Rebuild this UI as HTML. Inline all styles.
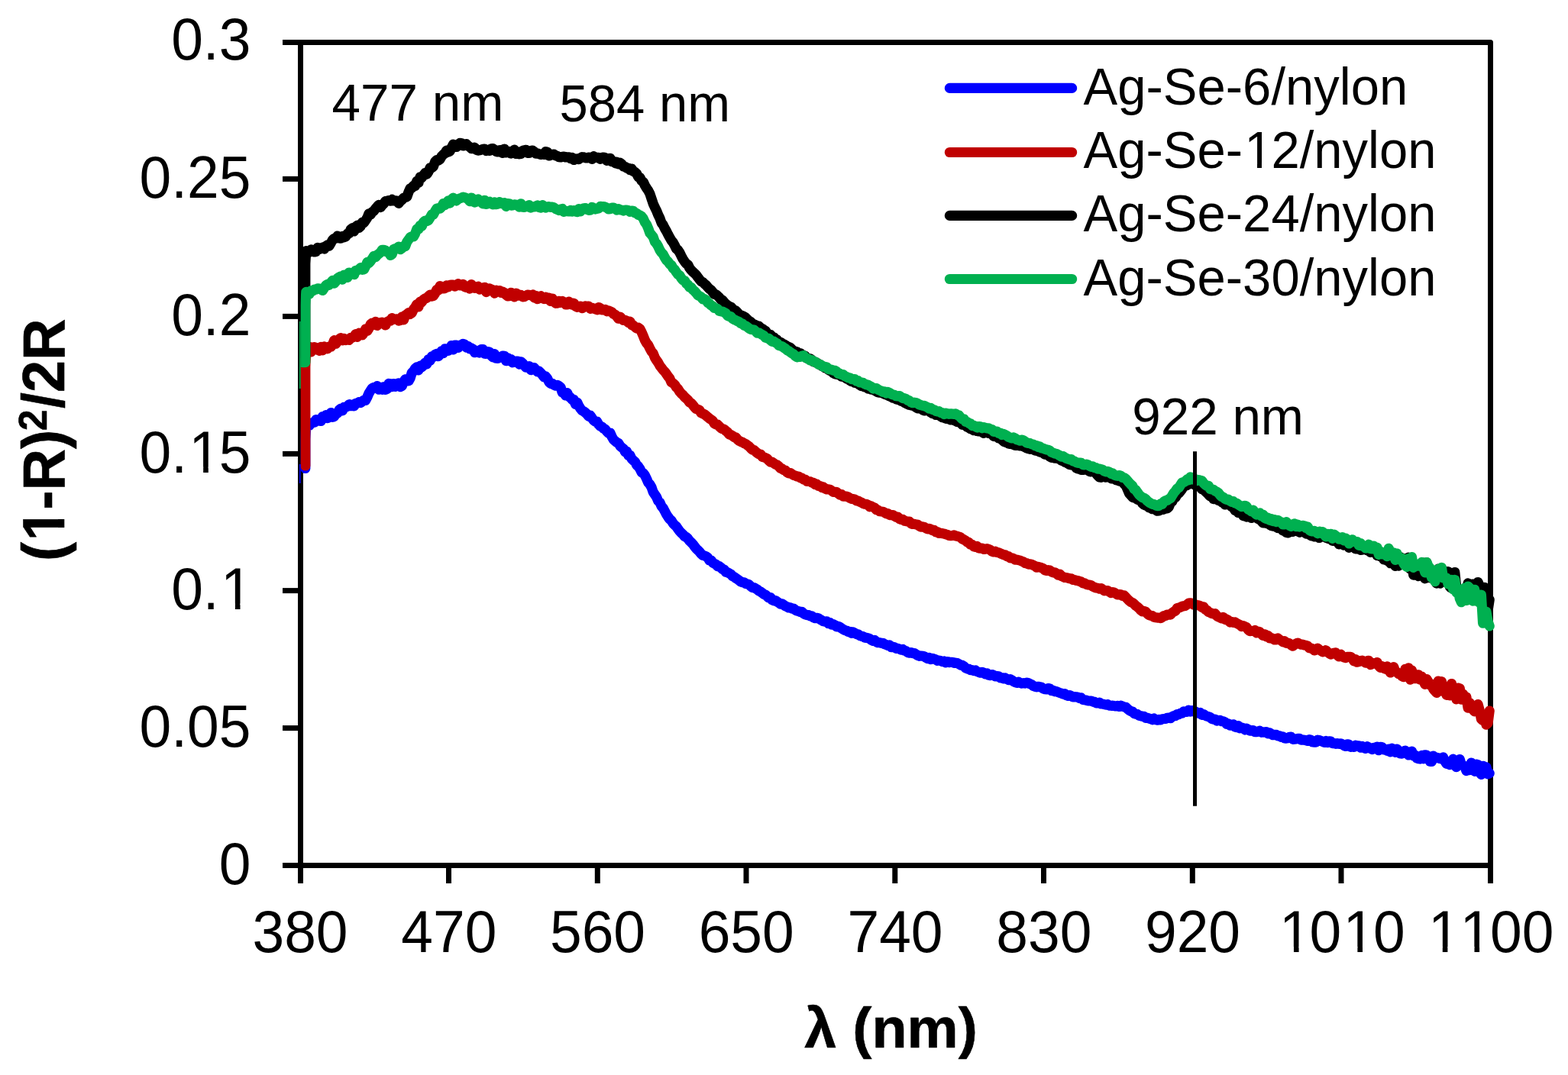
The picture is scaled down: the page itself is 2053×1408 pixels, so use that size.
<!DOCTYPE html>
<html lang="en">
<head>
<meta charset="utf-8">
<title>Kubelka-Munk absorption spectra of Ag-Se/nylon</title>
<style>
html,body{margin:0;padding:0;background:#fff;}
body{width:2053px;height:1408px;overflow:hidden;}
svg{display:block}
.t{font-family:"Liberation Sans", sans-serif;fill:#000;font-kerning:none;font-variant-ligatures:none;}
</style>
</head>
<body>
<svg width="2053" height="1408" viewBox="0 0 2053 1408" style="display:block">
<rect width="2053" height="1408" fill="#fff"/>
<g stroke="#000" stroke-width="7" fill="none" stroke-linecap="butt">
<path d="M370 55.5 H1951.5 V1157" stroke-linejoin="round"/>
<path d="M370 1133.4 H1951.5"/>
<path d="M393.5 55.5 V1157"/>
<path d="M370 234.4 H393.5"/>
<path d="M370 414.4 H393.5"/>
<path d="M370 594.4 H393.5"/>
<path d="M370 773.6 H393.5"/>
<path d="M370 953.6 H393.5"/>
<path d="M587.5 1133.4 V1157"/>
<path d="M782.3 1133.4 V1157"/>
<path d="M977.0 1133.4 V1157"/>
<path d="M1171.8 1133.4 V1157"/>
<path d="M1366.5 1133.4 V1157"/>
<path d="M1561.3 1133.4 V1157"/>
<path d="M1756.0 1133.4 V1157"/>
</g>
<clipPath id="pc"><rect x="393.6" y="0" width="1700" height="1408"/></clipPath>
<g clip-path="url(#pc)">
<path d="M399.8 613.5 L399.8 575.0 L400.8 554.0 L403.0 554.8 L405.1 557.4 L407.3 554.1 L409.5 553.6 L411.6 553.3 L413.8 549.6 L415.9 551.1 L418.1 551.2 L420.3 551.4 L422.4 545.5 L424.6 546.0 L426.8 543.5 L428.9 547.7 L431.1 546.0 L433.3 540.5 L435.4 546.4 L437.6 545.4 L439.8 542.3 L441.9 541.2 L444.1 537.0 L446.2 535.1 L448.4 537.9 L450.6 533.4 L452.7 533.2 L454.9 532.4 L457.1 529.7 L459.2 531.6 L461.4 530.2 L463.6 531.8 L465.7 528.3 L467.9 528.1 L470.0 526.7 L472.2 527.5 L474.4 525.8 L476.5 524.0 L478.7 524.4 L480.9 520.0 L483.0 515.2 L485.2 511.5 L487.4 508.4 L489.5 507.4 L491.7 507.4 L493.9 505.6 L496.0 510.2 L498.2 507.4 L500.3 510.3 L502.5 506.8 L504.7 510.5 L506.8 509.4 L509.0 502.4 L511.2 502.8 L513.3 506.7 L515.5 502.6 L517.7 506.3 L519.8 503.1 L522.0 501.8 L524.1 506.6 L526.3 505.7 L528.5 500.1 L530.6 496.9 L532.8 496.6 L535.0 499.0 L537.1 495.2 L539.3 488.0 L541.5 486.2 L543.6 482.5 L545.8 480.9 L548.0 484.8 L550.1 479.2 L552.3 480.6 L554.4 478.6 L556.6 475.1 L558.8 476.9 L560.9 470.8 L563.1 472.4 L565.3 466.9 L567.4 467.4 L569.6 464.5 L571.8 463.4 L573.9 466.7 L576.1 464.3 L578.2 459.8 L580.4 462.7 L582.6 456.9 L584.7 457.1 L586.9 459.4 L589.1 457.1 L591.2 452.5 L593.4 457.8 L595.6 452.0 L597.7 452.1 L599.9 455.4 L602.1 452.2 L604.2 451.8 L606.4 450.3 L608.5 451.1 L610.7 455.2 L612.9 453.5 L615.0 456.8 L617.2 456.0 L619.4 457.4 L621.5 461.7 L623.7 459.2 L625.9 459.9 L628.0 462.1 L630.2 457.5 L632.3 457.5 L634.5 463.2 L636.7 463.5 L638.8 460.6 L641.0 461.2 L643.2 465.8 L645.3 467.9 L647.5 463.6 L649.7 469.3 L651.8 469.5 L654.0 468.3 L656.2 467.6 L658.3 466.0 L660.5 466.2 L662.6 472.7 L664.8 468.8 L667.0 472.5 L669.1 470.5 L671.3 474.8 L673.5 474.1 L675.6 473.0 L677.8 473.0 L680.0 477.1 L682.1 473.8 L684.3 475.7 L686.4 478.6 L688.6 481.2 L690.8 480.6 L692.9 479.7 L695.1 484.7 L697.3 481.6 L699.4 481.6 L701.6 484.3 L703.8 486.9 L705.9 486.2 L708.1 488.5 L710.3 491.2 L712.4 493.9 L714.6 493.0 L716.7 495.9 L718.9 500.5 L721.1 502.6 L723.2 502.4 L725.4 504.2 L727.6 505.2 L729.7 504.3 L731.9 505.5 L734.1 507.3 L736.2 514.0 L738.4 514.7 L740.5 518.0 L742.7 514.7 L744.9 519.7 L747.0 520.6 L749.2 523.6 L751.4 523.6 L753.5 529.4 L755.7 527.0 L757.9 531.8 L760.0 535.1 L762.2 537.8 L764.4 538.8 L766.5 540.5 L768.7 542.7 L770.8 545.2 L773.0 544.3 L775.2 547.7 L777.3 550.5 L779.5 552.2 L781.7 552.2 L783.8 555.9 L786.0 558.3 L788.2 559.0 L790.3 561.3 L792.5 562.3 L794.6 565.2 L796.8 567.4 L799.0 567.2 L801.1 572.0 L803.3 575.8 L805.5 577.7 L807.6 579.5 L809.8 580.5 L812.0 584.2 L814.1 586.0 L816.3 587.8 L818.5 591.7 L820.6 591.4 L822.8 596.5 L824.9 596.4 L827.1 601.0 L829.3 603.1 L831.4 604.8 L833.6 609.0 L835.8 611.0 L837.9 614.2 L840.1 618.7 L842.3 619.9 L844.4 622.6 L846.6 627.1 L848.7 632.0 L850.9 634.4 L853.1 638.3 L855.2 644.5 L857.4 647.7 L859.6 650.9 L861.7 656.0 L863.9 658.1 L866.1 662.9 L868.2 665.4 L870.4 669.5 L872.6 673.7 L874.7 677.0 L876.9 680.0 L879.0 681.8 L881.2 685.4 L883.4 687.7 L885.5 689.5 L887.7 692.7 L889.9 695.8 L892.0 698.0 L894.2 699.9 L896.4 702.7 L898.5 703.5 L900.7 705.5 L902.8 708.4 L905.0 710.4 L907.2 712.7 L909.3 715.6 L911.5 718.4 L913.7 720.5 L915.8 722.6 L918.0 725.4 L920.2 727.4 L922.3 727.9 L924.5 728.8 L926.7 730.4 L928.8 733.9 L931.0 733.8 L933.1 736.9 L935.3 738.3 L937.5 739.3 L939.6 741.8 L941.8 741.7 L944.0 743.4 L946.1 745.6 L948.3 746.2 L950.5 749.5 L952.6 749.7 L954.8 751.0 L956.9 752.1 L959.1 754.7 L961.3 755.6 L963.4 757.3 L965.6 758.6 L967.8 760.3 L969.9 761.9 L972.1 762.6 L974.3 762.8 L976.4 764.6 L978.6 765.0 L980.8 765.8 L982.9 767.9 L985.1 769.6 L987.2 769.5 L989.4 770.9 L991.6 772.2 L993.7 774.1 L995.9 775.1 L998.1 776.7 L1000.2 778.4 L1002.4 779.0 L1004.6 781.3 L1006.7 783.0 L1008.9 782.6 L1011.0 785.8 L1013.2 786.8 L1015.4 786.5 L1017.5 788.1 L1019.7 789.5 L1021.9 791.1 L1024.0 790.9 L1026.2 792.3 L1028.4 793.9 L1030.5 794.7 L1032.7 796.0 L1034.9 795.8 L1037.0 797.1 L1039.2 797.0 L1041.3 799.0 L1043.5 800.1 L1045.7 800.6 L1047.8 801.6 L1050.0 801.4 L1052.2 803.7 L1054.3 804.8 L1056.5 805.6 L1058.7 805.5 L1060.8 807.0 L1063.0 806.8 L1065.1 808.9 L1067.3 809.7 L1069.5 809.4 L1071.6 809.7 L1073.8 811.4 L1076.0 812.5 L1078.1 813.8 L1080.3 814.1 L1082.5 813.9 L1084.6 816.5 L1086.8 815.7 L1089.0 818.2 L1091.1 817.7 L1093.3 819.0 L1095.4 820.9 L1097.6 820.4 L1099.8 821.3 L1101.9 823.0 L1104.1 824.4 L1106.3 825.5 L1108.4 826.1 L1110.6 827.6 L1112.8 827.4 L1114.9 829.2 L1117.1 828.0 L1119.2 829.1 L1121.4 830.6 L1123.6 830.8 L1125.7 832.6 L1127.9 833.2 L1130.1 833.7 L1132.2 835.2 L1134.4 835.4 L1136.6 835.7 L1138.7 836.6 L1140.9 838.4 L1143.1 839.3 L1145.2 838.5 L1147.4 840.7 L1149.5 841.7 L1151.7 841.5 L1153.9 842.4 L1156.0 842.3 L1158.2 843.8 L1160.4 844.5 L1162.5 845.4 L1164.7 844.8 L1166.9 847.6 L1169.0 847.3 L1171.2 847.7 L1173.3 849.3 L1175.5 849.4 L1177.7 850.0 L1179.8 851.1 L1182.0 850.5 L1184.2 852.2 L1186.3 852.7 L1188.5 854.6 L1190.7 855.2 L1192.8 854.5 L1195.0 855.6 L1197.2 855.6 L1199.3 857.0 L1201.5 858.4 L1203.6 859.3 L1205.8 859.0 L1208.0 859.3 L1210.1 859.7 L1212.3 861.3 L1214.5 862.6 L1216.6 861.5 L1218.8 863.5 L1221.0 862.3 L1223.1 863.2 L1225.3 863.8 L1227.4 865.3 L1229.6 865.0 L1231.8 865.6 L1233.9 866.6 L1236.1 866.0 L1238.3 867.8 L1240.4 866.6 L1242.6 867.6 L1244.8 867.3 L1246.9 867.3 L1249.1 868.3 L1251.3 868.2 L1253.4 868.5 L1255.6 869.7 L1257.7 871.1 L1259.9 871.4 L1262.1 872.7 L1264.2 874.8 L1266.4 875.9 L1268.6 876.3 L1270.7 877.6 L1272.9 877.6 L1275.1 878.7 L1277.2 877.9 L1279.4 879.6 L1281.5 880.4 L1283.7 881.1 L1285.9 880.4 L1288.0 881.0 L1290.2 882.9 L1292.4 882.0 L1294.5 884.3 L1296.7 884.6 L1298.9 883.5 L1301.0 884.3 L1303.2 885.9 L1305.4 885.5 L1307.5 885.7 L1309.7 887.9 L1311.8 887.5 L1314.0 888.9 L1316.2 888.0 L1318.3 889.3 L1320.5 890.6 L1322.7 889.7 L1324.8 890.8 L1327.0 892.5 L1329.2 893.6 L1331.3 894.4 L1333.5 893.2 L1335.6 894.5 L1337.8 895.1 L1340.0 894.7 L1342.1 895.1 L1344.3 894.1 L1346.5 894.7 L1348.6 895.8 L1350.8 896.6 L1353.0 898.6 L1355.1 899.3 L1357.3 899.8 L1359.5 899.3 L1361.6 899.7 L1363.8 900.2 L1365.9 902.0 L1368.1 902.7 L1370.3 902.9 L1372.4 901.5 L1374.6 901.9 L1376.8 904.7 L1378.9 904.3 L1381.1 905.8 L1383.3 905.6 L1385.4 906.6 L1387.6 907.5 L1389.7 908.1 L1391.9 909.2 L1394.1 908.6 L1396.2 910.6 L1398.4 911.5 L1400.6 910.6 L1402.7 911.7 L1404.9 912.9 L1407.1 912.7 L1409.2 912.8 L1411.4 913.2 L1413.6 914.5 L1415.7 914.0 L1417.9 916.5 L1420.0 916.8 L1422.2 917.1 L1424.4 918.0 L1426.5 918.0 L1428.7 918.1 L1430.9 919.1 L1433.0 919.4 L1435.2 920.8 L1437.4 920.9 L1439.5 920.1 L1441.7 922.0 L1443.8 922.0 L1446.0 922.6 L1448.2 923.1 L1450.3 922.6 L1452.5 924.1 L1454.7 924.3 L1456.8 924.2 L1459.0 924.6 L1461.2 924.9 L1463.3 924.4 L1465.5 925.4 L1467.7 924.2 L1469.8 925.1 L1472.0 926.0 L1474.1 926.3 L1476.3 928.4 L1478.5 930.3 L1480.6 931.5 L1482.8 931.9 L1485.0 934.6 L1487.1 935.2 L1489.3 935.6 L1491.5 937.3 L1493.6 937.7 L1495.8 938.2 L1497.9 938.4 L1500.1 940.4 L1502.3 940.2 L1504.4 940.9 L1506.6 941.6 L1508.8 942.7 L1510.9 941.0 L1513.1 942.6 L1515.3 943.2 L1517.4 942.3 L1519.6 942.9 L1521.8 941.7 L1523.9 941.5 L1526.1 941.4 L1528.2 940.2 L1530.4 940.0 L1532.6 940.7 L1534.7 938.7 L1536.9 937.5 L1539.1 937.6 L1541.2 935.5 L1543.4 935.8 L1545.6 934.3 L1547.7 934.2 L1549.9 931.8 L1552.0 932.5 L1554.2 932.4 L1556.4 930.0 L1558.5 932.0 L1560.7 930.6 L1562.9 932.0 L1565.0 931.9 L1567.2 933.3 L1569.4 934.3 L1571.5 933.4 L1573.7 936.4 L1575.9 935.6 L1578.0 937.0 L1580.2 938.2 L1582.3 938.7 L1584.5 939.5 L1586.7 941.7 L1588.8 942.2 L1591.0 942.1 L1593.2 944.0 L1595.3 943.5 L1597.5 943.4 L1599.7 944.7 L1601.8 944.8 L1604.0 945.9 L1606.1 948.3 L1608.3 947.9 L1610.5 950.1 L1612.6 950.2 L1614.8 948.8 L1617.0 952.2 L1619.1 952.7 L1621.3 950.6 L1623.5 953.8 L1625.6 952.9 L1627.8 953.7 L1630.0 955.8 L1632.1 954.2 L1634.3 955.5 L1636.4 957.2 L1638.6 957.0 L1640.8 956.6 L1642.9 958.6 L1645.1 958.6 L1647.3 958.3 L1649.4 957.2 L1651.6 959.3 L1653.8 959.1 L1655.9 958.8 L1658.1 958.7 L1660.2 960.8 L1662.4 959.9 L1664.6 961.5 L1666.7 962.7 L1668.9 962.4 L1671.1 962.3 L1673.2 963.8 L1675.4 963.8 L1677.6 965.4 L1679.7 964.9 L1681.9 966.9 L1684.1 967.1 L1686.2 966.7 L1688.4 965.3 L1690.5 965.2 L1692.7 968.3 L1694.9 968.2 L1697.0 968.0 L1699.2 967.4 L1701.4 967.4 L1703.5 969.1 L1705.7 968.9 L1707.9 969.3 L1710.0 969.7 L1712.2 970.4 L1714.3 968.6 L1716.5 969.1 L1718.7 972.0 L1720.8 972.1 L1723.0 972.2 L1725.2 969.2 L1727.3 969.5 L1729.5 970.5 L1731.7 971.3 L1733.8 972.3 L1736.0 970.5 L1738.2 972.4 L1740.3 970.8 L1742.5 971.1 L1744.6 973.7 L1746.8 973.6 L1749.0 974.3 L1751.1 973.6 L1753.3 974.4 L1755.5 973.8 L1757.6 974.7 L1759.8 976.7 L1762.0 977.4 L1764.1 974.8 L1766.3 975.3 L1768.4 978.3 L1770.6 977.7 L1772.8 978.4 L1774.9 976.3 L1777.1 977.3 L1779.3 976.8 L1781.4 979.2 L1783.6 977.5 L1785.8 978.9 L1787.9 980.5 L1790.1 977.9 L1792.3 979.1 L1794.4 980.3 L1796.6 981.5 L1798.7 979.4 L1800.9 979.3 L1803.1 978.1 L1805.2 982.7 L1807.4 978.4 L1809.6 978.6 L1811.7 981.9 L1813.9 981.7 L1816.1 983.4 L1818.2 981.2 L1820.4 984.9 L1822.5 980.2 L1824.7 981.5 L1826.9 985.3 L1829.0 981.1 L1831.2 983.2 L1833.4 987.0 L1835.5 987.1 L1837.7 984.0 L1839.9 983.1 L1842.0 985.3 L1844.2 989.0 L1846.4 986.1 L1848.5 984.1 L1850.7 990.1 L1852.8 989.1 L1855.0 993.0 L1857.2 993.7 L1859.3 994.0 L1861.5 989.4 L1863.7 993.8 L1865.8 988.8 L1868.0 989.3 L1870.2 990.7 L1872.3 997.3 L1874.5 997.3 L1876.6 990.1 L1878.8 991.9 L1881.0 992.3 L1883.1 992.7 L1885.3 993.5 L1887.5 993.9 L1889.6 991.9 L1891.8 996.9 L1894.0 1000.3 L1896.1 997.5 L1898.3 1001.7 L1900.5 998.7 L1902.6 994.2 L1904.8 1002.4 L1906.9 1004.7 L1909.1 997.4 L1911.3 994.5 L1913.4 1001.7 L1915.6 1002.7 L1917.8 1003.6 L1919.9 1009.6 L1922.1 1006.0 L1924.3 1008.7 L1926.4 999.1 L1928.6 1006.3 L1930.7 1010.3 L1932.9 1001.0 L1935.1 1001.6 L1937.2 1011.4 L1939.4 1014.4 L1941.6 1003.3 L1943.7 1011.5 L1945.9 1004.7 L1948.1 1013.8 L1950.2 1012.8" fill="none" stroke="#0000FF" stroke-width="13.2" stroke-linejoin="round" stroke-linecap="round"/>
<path d="M399.8 610.0 L399.8 480.0 L400.8 460.7 L403.0 455.1 L405.1 454.3 L407.3 460.9 L409.5 455.2 L411.6 454.6 L413.8 458.0 L415.9 455.8 L418.1 459.3 L420.3 454.4 L422.4 458.8 L424.6 453.9 L426.8 455.2 L428.9 456.8 L431.1 453.9 L433.3 454.2 L435.4 451.4 L437.6 445.7 L439.8 450.2 L441.9 447.2 L444.1 444.3 L446.2 442.5 L448.4 445.9 L450.6 443.3 L452.7 445.5 L454.9 444.3 L457.1 445.5 L459.2 442.3 L461.4 442.3 L463.6 440.9 L465.7 437.6 L467.9 441.4 L470.0 436.2 L472.2 438.5 L474.4 438.8 L476.5 435.9 L478.7 430.9 L480.9 433.3 L483.0 430.1 L485.2 424.7 L487.4 423.0 L489.5 425.4 L491.7 421.3 L493.9 426.4 L496.0 422.8 L498.2 422.7 L500.3 422.1 L502.5 424.0 L504.7 425.9 L506.8 421.8 L509.0 420.5 L511.2 420.2 L513.3 416.6 L515.5 417.9 L517.7 418.1 L519.8 417.9 L522.0 420.0 L524.1 419.5 L526.3 414.9 L528.5 419.0 L530.6 413.0 L532.8 411.7 L535.0 409.7 L537.1 411.4 L539.3 409.7 L541.5 405.0 L543.6 402.5 L545.8 398.6 L548.0 401.9 L550.1 395.2 L552.3 395.7 L554.4 392.5 L556.6 391.0 L558.8 390.2 L560.9 388.1 L563.1 386.1 L565.3 388.2 L567.4 387.7 L569.6 384.4 L571.8 379.3 L573.9 380.2 L576.1 374.6 L578.2 376.0 L580.4 377.9 L582.6 377.6 L584.7 373.8 L586.9 375.9 L589.1 373.2 L591.2 373.0 L593.4 373.0 L595.6 375.2 L597.7 373.2 L599.9 371.7 L602.1 373.9 L604.2 373.8 L606.4 372.4 L608.5 375.7 L610.7 376.4 L612.9 375.5 L615.0 378.1 L617.2 372.6 L619.4 376.1 L621.5 377.4 L623.7 376.0 L625.9 375.3 L628.0 379.1 L630.2 377.9 L632.3 377.3 L634.5 376.3 L636.7 382.6 L638.8 379.1 L641.0 378.0 L643.2 379.1 L645.3 379.8 L647.5 384.1 L649.7 380.2 L651.8 381.2 L654.0 380.6 L656.2 383.3 L658.3 382.1 L660.5 383.4 L662.6 386.2 L664.8 387.8 L667.0 387.7 L669.1 383.3 L671.3 385.8 L673.5 388.9 L675.6 384.1 L677.8 385.3 L680.0 387.1 L682.1 386.5 L684.3 388.8 L686.4 388.7 L688.6 387.3 L690.8 386.2 L692.9 386.3 L695.1 386.9 L697.3 386.1 L699.4 389.8 L701.6 387.3 L703.8 391.7 L705.9 390.6 L708.1 387.7 L710.3 390.5 L712.4 391.5 L714.6 389.0 L716.7 391.9 L718.9 390.0 L721.1 394.5 L723.2 391.0 L725.4 394.9 L727.6 397.3 L729.7 397.1 L731.9 394.3 L734.1 396.2 L736.2 394.5 L738.4 395.8 L740.5 398.8 L742.7 398.9 L744.9 395.1 L747.0 397.3 L749.2 399.0 L751.4 397.2 L753.5 401.1 L755.7 402.3 L757.9 401.3 L760.0 401.2 L762.2 403.7 L764.4 402.2 L766.5 400.9 L768.7 401.5 L770.8 401.1 L773.0 404.4 L775.2 403.1 L777.3 404.1 L779.5 404.8 L781.7 405.7 L783.8 402.5 L786.0 403.6 L788.2 405.9 L790.3 406.0 L792.5 405.5 L794.6 407.7 L796.8 406.9 L799.0 407.8 L801.1 408.7 L803.3 411.3 L805.5 412.1 L807.6 414.5 L809.8 417.3 L812.0 415.0 L814.1 417.5 L816.3 419.5 L818.5 419.3 L820.6 420.4 L822.8 422.5 L824.9 421.1 L827.1 425.8 L829.3 426.3 L831.4 428.3 L833.6 430.0 L835.8 429.2 L837.9 430.8 L840.1 435.1 L842.3 440.2 L844.4 445.5 L846.6 449.4 L848.7 451.8 L850.9 456.4 L853.1 460.5 L855.2 462.9 L857.4 468.4 L859.6 471.9 L861.7 474.9 L863.9 478.9 L866.1 481.8 L868.2 484.6 L870.4 486.8 L872.6 489.9 L874.7 493.0 L876.9 495.7 L879.0 500.7 L881.2 501.8 L883.4 503.8 L885.5 507.2 L887.7 509.4 L889.9 513.0 L892.0 515.4 L894.2 517.3 L896.4 520.0 L898.5 521.9 L900.7 523.9 L902.8 526.9 L905.0 527.9 L907.2 530.5 L909.3 533.3 L911.5 535.5 L913.7 536.2 L915.8 537.2 L918.0 540.9 L920.2 541.7 L922.3 542.7 L924.5 544.3 L926.7 546.3 L928.8 548.1 L931.0 549.5 L933.1 551.0 L935.3 554.8 L937.5 556.0 L939.6 556.1 L941.8 558.5 L944.0 560.7 L946.1 561.7 L948.3 562.3 L950.5 564.5 L952.6 566.1 L954.8 568.9 L956.9 569.6 L959.1 570.8 L961.3 572.6 L963.4 572.8 L965.6 575.6 L967.8 577.4 L969.9 578.5 L972.1 579.3 L974.3 580.6 L976.4 581.5 L978.6 583.1 L980.8 584.8 L982.9 587.0 L985.1 589.2 L987.2 589.5 L989.4 591.6 L991.6 593.4 L993.7 594.9 L995.9 595.0 L998.1 598.3 L1000.2 598.9 L1002.4 599.7 L1004.6 600.9 L1006.7 603.3 L1008.9 605.2 L1011.0 605.2 L1013.2 606.7 L1015.4 608.4 L1017.5 608.9 L1019.7 610.8 L1021.9 613.3 L1024.0 613.9 L1026.2 615.8 L1028.4 616.0 L1030.5 618.7 L1032.7 619.8 L1034.9 619.5 L1037.0 621.1 L1039.2 622.4 L1041.3 623.0 L1043.5 624.0 L1045.7 624.1 L1047.8 625.7 L1050.0 626.2 L1052.2 628.1 L1054.3 628.1 L1056.5 630.4 L1058.7 630.5 L1060.8 630.7 L1063.0 632.1 L1065.1 632.4 L1067.3 634.7 L1069.5 634.2 L1071.6 636.4 L1073.8 636.6 L1076.0 638.5 L1078.1 637.9 L1080.3 640.0 L1082.5 641.0 L1084.6 640.8 L1086.8 641.4 L1089.0 642.8 L1091.1 644.3 L1093.3 644.3 L1095.4 644.6 L1097.6 646.5 L1099.8 648.1 L1101.9 647.6 L1104.1 650.2 L1106.3 650.1 L1108.4 650.2 L1110.6 651.0 L1112.8 652.4 L1114.9 653.4 L1117.1 653.5 L1119.2 654.1 L1121.4 655.9 L1123.6 656.1 L1125.7 657.3 L1127.9 658.1 L1130.1 659.5 L1132.2 660.2 L1134.4 660.4 L1136.6 661.3 L1138.7 663.8 L1140.9 663.0 L1143.1 664.2 L1145.2 665.1 L1147.4 667.7 L1149.5 668.1 L1151.7 669.8 L1153.9 670.0 L1156.0 670.2 L1158.2 671.3 L1160.4 672.8 L1162.5 672.5 L1164.7 674.6 L1166.9 674.5 L1169.0 674.5 L1171.2 676.0 L1173.3 677.2 L1175.5 677.1 L1177.7 679.6 L1179.8 680.5 L1182.0 680.4 L1184.2 682.2 L1186.3 682.6 L1188.5 683.1 L1190.7 683.1 L1192.8 685.7 L1195.0 686.5 L1197.2 686.4 L1199.3 687.0 L1201.5 687.0 L1203.6 689.0 L1205.8 690.2 L1208.0 689.9 L1210.1 690.4 L1212.3 691.8 L1214.5 692.9 L1216.6 692.3 L1218.8 693.3 L1221.0 694.8 L1223.1 694.3 L1225.3 696.8 L1227.4 696.5 L1229.6 698.5 L1231.8 698.4 L1233.9 698.6 L1236.1 699.1 L1238.3 699.8 L1240.4 700.3 L1242.6 701.5 L1244.8 701.7 L1246.9 701.5 L1249.1 700.9 L1251.3 701.8 L1253.4 702.4 L1255.6 703.0 L1257.7 703.7 L1259.9 706.0 L1262.1 706.8 L1264.2 708.1 L1266.4 710.0 L1268.6 710.5 L1270.7 713.5 L1272.9 713.4 L1275.1 715.9 L1277.2 716.5 L1279.4 715.4 L1281.5 717.9 L1283.7 718.2 L1285.9 718.1 L1288.0 719.4 L1290.2 719.1 L1292.4 718.6 L1294.5 719.4 L1296.7 720.3 L1298.9 722.3 L1301.0 723.0 L1303.2 722.2 L1305.4 723.4 L1307.5 723.7 L1309.7 724.7 L1311.8 725.7 L1314.0 726.6 L1316.2 726.8 L1318.3 728.8 L1320.5 728.7 L1322.7 730.9 L1324.8 730.8 L1327.0 731.5 L1329.2 733.1 L1331.3 733.0 L1333.5 733.6 L1335.6 734.1 L1337.8 735.2 L1340.0 735.8 L1342.1 737.7 L1344.3 737.6 L1346.5 739.1 L1348.6 738.9 L1350.8 739.2 L1353.0 740.4 L1355.1 741.3 L1357.3 743.2 L1359.5 742.3 L1361.6 743.1 L1363.8 743.7 L1365.9 744.6 L1368.1 746.9 L1370.3 747.5 L1372.4 746.7 L1374.6 747.1 L1376.8 748.9 L1378.9 750.0 L1381.1 749.8 L1383.3 751.3 L1385.4 753.0 L1387.6 752.1 L1389.7 754.6 L1391.9 755.4 L1394.1 756.4 L1396.2 756.5 L1398.4 757.1 L1400.6 758.0 L1402.7 757.8 L1404.9 759.4 L1407.1 759.5 L1409.2 760.4 L1411.4 760.5 L1413.6 761.5 L1415.7 762.0 L1417.9 763.8 L1420.0 763.9 L1422.2 765.3 L1424.4 765.9 L1426.5 766.1 L1428.7 766.6 L1430.9 768.3 L1433.0 769.2 L1435.2 770.0 L1437.4 770.3 L1439.5 771.2 L1441.7 770.6 L1443.8 772.0 L1446.0 773.8 L1448.2 773.6 L1450.3 773.7 L1452.5 775.0 L1454.7 776.5 L1456.8 775.5 L1459.0 776.1 L1461.2 777.6 L1463.3 779.0 L1465.5 778.5 L1467.7 778.8 L1469.8 780.5 L1472.0 780.0 L1474.1 782.2 L1476.3 784.6 L1478.5 786.8 L1480.6 788.6 L1482.8 789.4 L1485.0 791.2 L1487.1 793.4 L1489.3 794.9 L1491.5 796.9 L1493.6 799.2 L1495.8 800.8 L1497.9 800.4 L1500.1 801.2 L1502.3 803.8 L1504.4 805.5 L1506.6 806.3 L1508.8 806.6 L1510.9 808.3 L1513.1 808.7 L1515.3 809.1 L1517.4 809.0 L1519.6 809.6 L1521.8 808.4 L1523.9 806.5 L1526.1 806.4 L1528.2 805.0 L1530.4 805.1 L1532.6 805.1 L1534.7 802.6 L1536.9 801.1 L1539.1 800.2 L1541.2 796.7 L1543.4 796.1 L1545.6 795.3 L1547.7 794.3 L1549.9 793.8 L1552.0 793.4 L1554.2 791.9 L1556.4 790.1 L1558.5 789.8 L1560.7 790.2 L1562.9 792.2 L1565.0 791.8 L1567.2 792.6 L1569.4 792.8 L1571.5 793.6 L1573.7 795.4 L1575.9 794.9 L1578.0 798.2 L1580.2 799.2 L1582.3 801.6 L1584.5 802.4 L1586.7 803.5 L1588.8 803.9 L1591.0 803.7 L1593.2 806.8 L1595.3 808.0 L1597.5 808.9 L1599.7 809.9 L1601.8 808.4 L1604.0 811.5 L1606.1 811.1 L1608.3 812.4 L1610.5 815.0 L1612.6 814.3 L1614.8 815.5 L1617.0 814.9 L1619.1 816.3 L1621.3 817.4 L1623.5 818.4 L1625.6 820.5 L1627.8 819.6 L1630.0 820.7 L1632.1 821.6 L1634.3 824.9 L1636.4 826.6 L1638.6 826.5 L1640.8 826.4 L1642.9 825.6 L1645.1 829.0 L1647.3 827.2 L1649.4 827.7 L1651.6 830.3 L1653.8 832.5 L1655.9 830.9 L1658.1 833.9 L1660.2 832.4 L1662.4 835.8 L1664.6 835.5 L1666.7 836.7 L1668.9 838.0 L1671.1 837.9 L1673.2 835.9 L1675.4 838.0 L1677.6 839.0 L1679.7 840.8 L1681.9 839.7 L1684.1 842.4 L1686.2 842.1 L1688.4 842.8 L1690.5 844.9 L1692.7 846.1 L1694.9 844.5 L1697.0 843.1 L1699.2 842.1 L1701.4 843.3 L1703.5 844.2 L1705.7 844.2 L1707.9 845.0 L1710.0 845.3 L1712.2 846.2 L1714.3 848.7 L1716.5 849.1 L1718.7 849.8 L1720.8 851.9 L1723.0 851.2 L1725.2 849.1 L1727.3 851.1 L1729.5 852.2 L1731.7 853.9 L1733.8 853.4 L1736.0 851.7 L1738.2 854.2 L1740.3 855.7 L1742.5 857.0 L1744.6 855.8 L1746.8 855.2 L1749.0 854.9 L1751.1 858.0 L1753.3 860.0 L1755.5 857.2 L1757.6 860.1 L1759.8 861.1 L1762.0 861.6 L1764.1 860.4 L1766.3 860.3 L1768.4 860.3 L1770.6 862.2 L1772.8 865.9 L1774.9 863.6 L1777.1 867.2 L1779.3 866.6 L1781.4 865.6 L1783.6 865.2 L1785.8 866.3 L1787.9 868.2 L1790.1 865.8 L1792.3 865.3 L1794.4 870.7 L1796.6 869.6 L1798.7 868.5 L1800.9 869.3 L1803.1 867.5 L1805.2 871.9 L1807.4 874.5 L1809.6 872.6 L1811.7 875.1 L1813.9 876.3 L1816.1 872.9 L1818.2 876.7 L1820.4 881.0 L1822.5 878.9 L1824.7 873.5 L1826.9 879.8 L1829.0 880.3 L1831.2 882.6 L1833.4 882.4 L1835.5 885.5 L1837.7 886.7 L1839.9 876.3 L1842.0 880.2 L1844.2 874.8 L1846.4 890.1 L1848.5 878.1 L1850.7 884.3 L1852.8 888.7 L1855.0 887.0 L1857.2 883.8 L1859.3 890.1 L1861.5 886.1 L1863.7 891.5 L1865.8 896.3 L1868.0 889.6 L1870.2 893.0 L1872.3 897.3 L1874.5 896.3 L1876.6 902.3 L1878.8 905.0 L1881.0 907.5 L1883.1 892.1 L1885.3 899.4 L1887.5 892.7 L1889.6 905.5 L1891.8 900.0 L1894.0 910.3 L1896.1 903.5 L1898.3 911.0 L1900.5 895.5 L1902.6 908.9 L1904.8 905.7 L1906.9 915.9 L1909.1 901.1 L1911.3 901.8 L1913.4 916.1 L1915.6 909.1 L1917.8 912.6 L1919.9 913.0 L1922.1 927.2 L1924.3 920.5 L1926.4 927.3 L1928.6 929.4 L1930.7 931.8 L1932.9 924.2 L1935.1 922.6 L1937.2 930.3 L1939.4 941.7 L1941.6 943.8 L1943.7 936.5 L1945.9 949.2 L1948.1 947.2 L1950.2 931.0" fill="none" stroke="#C00000" stroke-width="13.2" stroke-linejoin="round" stroke-linecap="round"/>
<path d="M399.8 466.0 L399.8 345.0 L400.8 328.7 L403.0 329.1 L405.1 330.3 L407.3 326.9 L409.5 329.2 L411.6 330.0 L413.8 329.5 L415.9 324.3 L418.1 326.6 L420.3 325.6 L422.4 324.0 L424.6 326.1 L426.8 322.4 L428.9 320.9 L431.1 322.1 L433.3 318.2 L435.4 314.2 L437.6 312.3 L439.8 312.3 L441.9 309.0 L444.1 311.9 L446.2 312.2 L448.4 309.6 L450.6 310.8 L452.7 309.9 L454.9 306.2 L457.1 305.6 L459.2 300.6 L461.4 298.7 L463.6 303.0 L465.7 297.1 L467.9 295.2 L470.0 298.4 L472.2 296.4 L474.4 291.4 L476.5 291.6 L478.7 288.5 L480.9 285.1 L483.0 279.8 L485.2 281.0 L487.4 277.7 L489.5 276.4 L491.7 273.1 L493.9 270.7 L496.0 268.3 L498.2 271.6 L500.3 268.9 L502.5 266.8 L504.7 263.6 L506.8 263.2 L509.0 262.5 L511.2 263.2 L513.3 261.4 L515.5 263.0 L517.7 262.9 L519.8 263.1 L522.0 266.3 L524.1 263.5 L526.3 261.8 L528.5 259.2 L530.6 258.5 L532.8 257.7 L535.0 251.5 L537.1 246.8 L539.3 246.1 L541.5 243.0 L543.6 243.3 L545.8 237.1 L548.0 239.5 L550.1 231.8 L552.3 232.6 L554.4 229.6 L556.6 226.6 L558.8 228.2 L560.9 225.1 L563.1 219.9 L565.3 219.9 L567.4 218.0 L569.6 211.9 L571.8 209.6 L573.9 210.2 L576.1 208.6 L578.2 204.8 L580.4 202.4 L582.6 200.8 L584.7 197.1 L586.9 199.2 L589.1 198.1 L591.2 193.5 L593.4 189.1 L595.6 190.4 L597.7 192.5 L599.9 189.1 L602.1 187.4 L604.2 187.5 L606.4 190.9 L608.5 190.5 L610.7 188.7 L612.9 191.0 L615.0 192.4 L617.2 194.6 L619.4 194.7 L621.5 193.2 L623.7 196.3 L625.9 197.1 L628.0 196.8 L630.2 196.2 L632.3 195.3 L634.5 195.1 L636.7 197.5 L638.8 196.5 L641.0 197.4 L643.2 194.8 L645.3 194.5 L647.5 196.1 L649.7 198.5 L651.8 198.9 L654.0 196.8 L656.2 196.4 L658.3 200.5 L660.5 195.2 L662.6 199.8 L664.8 199.2 L667.0 198.4 L669.1 201.1 L671.3 199.6 L673.5 196.1 L675.6 201.5 L677.8 198.8 L680.0 201.8 L682.1 201.4 L684.3 197.5 L686.4 196.7 L688.6 196.4 L690.8 200.3 L692.9 200.4 L695.1 197.5 L697.3 197.1 L699.4 198.6 L701.6 201.1 L703.8 200.9 L705.9 201.8 L708.1 202.5 L710.3 201.5 L712.4 202.3 L714.6 198.6 L716.7 199.1 L718.9 204.0 L721.1 203.2 L723.2 202.4 L725.4 202.1 L727.6 203.8 L729.7 204.4 L731.9 205.7 L734.1 206.0 L736.2 205.2 L738.4 205.0 L740.5 206.0 L742.7 205.8 L744.9 205.8 L747.0 207.5 L749.2 206.3 L751.4 209.5 L753.5 208.3 L755.7 207.9 L757.9 208.7 L760.0 206.8 L762.2 205.7 L764.4 205.9 L766.5 206.9 L768.7 206.8 L770.8 206.2 L773.0 206.3 L775.2 208.4 L777.3 204.7 L779.5 206.5 L781.7 206.4 L783.8 206.3 L786.0 208.3 L788.2 206.5 L790.3 206.0 L792.5 206.8 L794.6 210.3 L796.8 208.0 L799.0 207.3 L801.1 211.7 L803.3 211.4 L805.5 213.6 L807.6 212.2 L809.8 215.0 L812.0 213.3 L814.1 215.1 L816.3 218.2 L818.5 218.3 L820.6 220.3 L822.8 220.0 L824.9 222.7 L827.1 221.1 L829.3 224.6 L831.4 225.3 L833.6 227.5 L835.8 231.9 L837.9 232.6 L840.1 236.9 L842.3 238.4 L844.4 242.9 L846.6 246.5 L848.7 249.5 L850.9 253.7 L853.1 260.4 L855.2 266.7 L857.4 271.6 L859.6 276.0 L861.7 281.3 L863.9 285.7 L866.1 291.9 L868.2 294.6 L870.4 299.1 L872.6 302.9 L874.7 307.1 L876.9 311.1 L879.0 314.8 L881.2 317.5 L883.4 321.5 L885.5 325.8 L887.7 327.5 L889.9 330.9 L892.0 335.2 L894.2 339.4 L896.4 342.7 L898.5 345.2 L900.7 346.7 L902.8 351.0 L905.0 353.8 L907.2 356.1 L909.3 357.9 L911.5 360.1 L913.7 363.1 L915.8 365.9 L918.0 368.5 L920.2 369.6 L922.3 371.8 L924.5 373.5 L926.7 376.2 L928.8 378.3 L931.0 379.9 L933.1 382.5 L935.3 385.5 L937.5 385.8 L939.6 387.6 L941.8 389.6 L944.0 392.6 L946.1 393.2 L948.3 396.1 L950.5 398.1 L952.6 399.8 L954.8 401.5 L956.9 401.9 L959.1 404.2 L961.3 406.6 L963.4 406.9 L965.6 409.3 L967.8 411.5 L969.9 413.3 L972.1 413.6 L974.3 414.7 L976.4 416.1 L978.6 418.3 L980.8 420.4 L982.9 421.4 L985.1 424.0 L987.2 424.7 L989.4 425.7 L991.6 427.2 L993.7 427.1 L995.9 429.5 L998.1 430.5 L1000.2 432.1 L1002.4 433.4 L1004.6 436.6 L1006.7 438.5 L1008.9 438.3 L1011.0 441.5 L1013.2 441.7 L1015.4 443.9 L1017.5 445.1 L1019.7 447.8 L1021.9 448.2 L1024.0 449.7 L1026.2 450.8 L1028.4 452.0 L1030.5 453.4 L1032.7 454.4 L1034.9 455.5 L1037.0 457.8 L1039.2 459.4 L1041.3 460.4 L1043.5 460.7 L1045.7 463.4 L1047.8 462.6 L1050.0 464.5 L1052.2 465.5 L1054.3 466.4 L1056.5 469.3 L1058.7 470.0 L1060.8 469.9 L1063.0 471.3 L1065.1 473.9 L1067.3 474.1 L1069.5 475.2 L1071.6 476.4 L1073.8 477.7 L1076.0 479.5 L1078.1 480.1 L1080.3 482.0 L1082.5 482.0 L1084.6 484.3 L1086.8 485.6 L1089.0 486.2 L1091.1 488.7 L1093.3 489.8 L1095.4 490.3 L1097.6 490.7 L1099.8 491.2 L1101.9 493.3 L1104.1 493.5 L1106.3 494.3 L1108.4 496.1 L1110.6 496.4 L1112.8 498.4 L1114.9 499.7 L1117.1 499.0 L1119.2 501.4 L1121.4 501.4 L1123.6 502.6 L1125.7 504.3 L1127.9 505.7 L1130.1 505.1 L1132.2 507.0 L1134.4 506.9 L1136.6 509.1 L1138.7 508.3 L1140.9 510.2 L1143.1 509.7 L1145.2 511.5 L1147.4 512.7 L1149.5 513.8 L1151.7 514.3 L1153.9 514.5 L1156.0 515.0 L1158.2 516.3 L1160.4 517.1 L1162.5 517.9 L1164.7 519.0 L1166.9 519.9 L1169.0 521.2 L1171.2 521.4 L1173.3 522.8 L1175.5 523.4 L1177.7 523.4 L1179.8 525.3 L1182.0 525.3 L1184.2 527.3 L1186.3 528.4 L1188.5 529.4 L1190.7 530.4 L1192.8 530.9 L1195.0 531.4 L1197.2 531.9 L1199.3 533.6 L1201.5 534.9 L1203.6 534.5 L1205.8 534.9 L1208.0 536.9 L1210.1 538.0 L1212.3 537.2 L1214.5 537.8 L1216.6 538.5 L1218.8 540.3 L1221.0 541.7 L1223.1 541.3 L1225.3 543.4 L1227.4 542.6 L1229.6 543.8 L1231.8 545.4 L1233.9 546.8 L1236.1 547.1 L1238.3 548.3 L1240.4 548.2 L1242.6 548.9 L1244.8 549.9 L1246.9 549.4 L1249.1 550.4 L1251.3 551.4 L1253.4 552.7 L1255.6 552.4 L1257.7 553.3 L1259.9 556.2 L1262.1 556.6 L1264.2 557.3 L1266.4 559.3 L1268.6 560.3 L1270.7 561.7 L1272.9 562.4 L1275.1 563.7 L1277.2 563.4 L1279.4 564.6 L1281.5 565.0 L1283.7 565.1 L1285.9 565.8 L1288.0 567.3 L1290.2 566.3 L1292.4 566.5 L1294.5 567.4 L1296.7 567.7 L1298.9 568.5 L1301.0 571.5 L1303.2 571.8 L1305.4 571.8 L1307.5 574.0 L1309.7 574.2 L1311.8 576.0 L1314.0 578.1 L1316.2 579.3 L1318.3 579.1 L1320.5 581.0 L1322.7 581.4 L1324.8 581.6 L1327.0 582.5 L1329.2 583.4 L1331.3 583.3 L1333.5 583.2 L1335.6 584.0 L1337.8 583.5 L1340.0 584.9 L1342.1 585.9 L1344.3 586.9 L1346.5 587.6 L1348.6 588.3 L1350.8 587.9 L1353.0 588.7 L1355.1 590.1 L1357.3 589.8 L1359.5 591.1 L1361.6 592.1 L1363.8 592.6 L1365.9 593.4 L1368.1 595.3 L1370.3 595.5 L1372.4 595.8 L1374.6 598.2 L1376.8 599.3 L1378.9 598.5 L1381.1 600.2 L1383.3 599.7 L1385.4 600.7 L1387.6 601.4 L1389.7 603.2 L1391.9 603.8 L1394.1 605.2 L1396.2 605.9 L1398.4 607.2 L1400.6 608.6 L1402.7 609.0 L1404.9 609.3 L1407.1 610.2 L1409.2 612.9 L1411.4 613.9 L1413.6 614.3 L1415.7 615.4 L1417.9 615.5 L1420.0 615.1 L1422.2 615.0 L1424.4 616.0 L1426.5 617.5 L1428.7 617.9 L1430.9 616.4 L1433.0 617.3 L1435.2 620.2 L1437.4 623.1 L1439.5 624.9 L1441.7 625.3 L1443.8 623.6 L1446.0 623.9 L1448.2 625.2 L1450.3 624.4 L1452.5 624.4 L1454.7 626.6 L1456.8 625.3 L1459.0 627.1 L1461.2 628.7 L1463.3 629.1 L1465.5 630.2 L1467.7 629.6 L1469.8 631.0 L1472.0 633.9 L1474.1 636.1 L1476.3 640.9 L1478.5 646.2 L1480.6 648.5 L1482.8 651.2 L1485.0 652.0 L1487.1 651.8 L1489.3 654.3 L1491.5 655.1 L1493.6 655.6 L1495.8 659.4 L1497.9 661.1 L1500.1 662.2 L1502.3 662.3 L1504.4 664.9 L1506.6 665.4 L1508.8 666.7 L1510.9 666.0 L1513.1 667.9 L1515.3 669.2 L1517.4 669.0 L1519.6 667.7 L1521.8 667.5 L1523.9 667.0 L1526.1 666.1 L1528.2 666.0 L1530.4 663.9 L1532.6 658.3 L1534.7 657.0 L1536.9 652.6 L1539.1 651.6 L1541.2 647.8 L1543.4 646.1 L1545.6 643.3 L1547.7 640.6 L1549.9 636.0 L1552.0 634.6 L1554.2 635.7 L1556.4 633.7 L1558.5 633.6 L1560.7 633.0 L1562.9 633.8 L1565.0 635.7 L1567.2 635.3 L1569.4 636.9 L1571.5 638.2 L1573.7 640.9 L1575.9 640.5 L1578.0 643.5 L1580.2 645.6 L1582.3 647.7 L1584.5 650.1 L1586.7 649.9 L1588.8 653.6 L1591.0 653.7 L1593.2 653.6 L1595.3 655.4 L1597.5 655.7 L1599.7 657.9 L1601.8 656.5 L1604.0 661.0 L1606.1 660.0 L1608.3 659.8 L1610.5 661.4 L1612.6 663.7 L1614.8 664.8 L1617.0 668.5 L1619.1 667.9 L1621.3 671.5 L1623.5 670.2 L1625.6 671.8 L1627.8 675.6 L1630.0 675.9 L1632.1 677.0 L1634.3 674.2 L1636.4 674.7 L1638.6 678.3 L1640.8 677.4 L1642.9 677.1 L1645.1 677.8 L1647.3 679.6 L1649.4 680.2 L1651.6 682.6 L1653.8 684.9 L1655.9 681.7 L1658.1 685.4 L1660.2 685.2 L1662.4 687.2 L1664.6 688.5 L1666.7 689.0 L1668.9 686.2 L1671.1 690.4 L1673.2 691.7 L1675.4 690.8 L1677.6 690.2 L1679.7 695.1 L1681.9 695.5 L1684.1 697.3 L1686.2 697.9 L1688.4 696.9 L1690.5 692.4 L1692.7 696.3 L1694.9 695.5 L1697.0 692.6 L1699.2 695.6 L1701.4 697.1 L1703.5 694.9 L1705.7 695.1 L1707.9 697.2 L1710.0 698.9 L1712.2 697.4 L1714.3 699.7 L1716.5 701.8 L1718.7 699.1 L1720.8 702.9 L1723.0 699.0 L1725.2 702.4 L1727.3 704.5 L1729.5 702.5 L1731.7 702.5 L1733.8 703.1 L1736.0 704.2 L1738.2 705.0 L1740.3 705.8 L1742.5 705.4 L1744.6 708.3 L1746.8 706.6 L1749.0 707.5 L1751.1 709.4 L1753.3 712.9 L1755.5 709.5 L1757.6 709.5 L1759.8 714.0 L1762.0 713.4 L1764.1 711.0 L1766.3 717.3 L1768.4 712.8 L1770.6 716.3 L1772.8 714.3 L1774.9 718.9 L1777.1 716.3 L1779.3 718.6 L1781.4 720.3 L1783.6 720.2 L1785.8 718.1 L1787.9 718.5 L1790.1 721.0 L1792.3 721.2 L1794.4 723.4 L1796.6 718.8 L1798.7 719.2 L1800.9 719.2 L1803.1 727.6 L1805.2 721.9 L1807.4 728.8 L1809.6 726.3 L1811.7 732.8 L1813.9 730.3 L1816.1 734.3 L1818.2 725.8 L1820.4 737.7 L1822.5 731.9 L1824.7 728.2 L1826.9 741.5 L1829.0 733.2 L1831.2 741.1 L1833.4 729.7 L1835.5 735.0 L1837.7 733.7 L1839.9 731.7 L1842.0 737.0 L1844.2 730.2 L1846.4 745.3 L1848.5 733.9 L1850.7 753.2 L1852.8 740.4 L1855.0 748.9 L1857.2 754.6 L1859.3 749.7 L1861.5 753.9 L1863.7 737.0 L1865.8 757.8 L1868.0 736.8 L1870.2 752.5 L1872.3 756.8 L1874.5 756.1 L1876.6 755.8 L1878.8 753.4 L1881.0 764.1 L1883.1 745.2 L1885.3 764.2 L1887.5 762.5 L1889.6 747.1 L1891.8 755.3 L1894.0 755.5 L1896.1 748.7 L1898.3 768.9 L1900.5 770.1 L1902.6 768.4 L1904.8 749.5 L1906.9 770.2 L1909.1 777.0 L1911.3 772.3 L1913.4 779.6 L1915.6 781.5 L1917.8 774.6 L1919.9 776.3 L1922.1 763.9 L1924.3 778.4 L1926.4 765.3 L1928.6 765.1 L1930.7 768.4 L1932.9 769.3 L1935.1 762.5 L1937.2 767.3 L1939.4 772.7 L1941.6 773.0 L1943.7 769.3 L1945.9 794.3 L1948.1 799.2 L1950.2 785.5" fill="none" stroke="#000000" stroke-width="13.2" stroke-linejoin="round" stroke-linecap="round"/>
<path d="M396.0 474.6 L399.8 474.6 L399.8 400.0 L400.8 382.3 L403.0 383.1 L405.1 385.1 L407.3 380.8 L409.5 381.1 L411.6 379.2 L413.8 379.1 L415.9 377.8 L418.1 378.1 L420.3 379.1 L422.4 380.5 L424.6 377.1 L426.8 373.7 L428.9 372.4 L431.1 373.2 L433.3 369.9 L435.4 367.4 L437.6 371.1 L439.8 368.6 L441.9 364.4 L444.1 362.9 L446.2 361.9 L448.4 366.1 L450.6 360.0 L452.7 362.3 L454.9 363.5 L457.1 357.0 L459.2 358.2 L461.4 357.9 L463.6 359.7 L465.7 354.4 L467.9 354.0 L470.0 352.8 L472.2 350.6 L474.4 353.3 L476.5 353.0 L478.7 348.6 L480.9 343.4 L483.0 344.7 L485.2 342.0 L487.4 338.8 L489.5 335.3 L491.7 336.8 L493.9 334.1 L496.0 332.4 L498.2 330.6 L500.3 327.4 L502.5 327.4 L504.7 328.1 L506.8 329.9 L509.0 330.4 L511.2 334.5 L513.3 332.9 L515.5 326.3 L517.7 325.7 L519.8 325.2 L522.0 323.1 L524.1 326.7 L526.3 325.1 L528.5 322.3 L530.6 322.8 L532.8 316.8 L535.0 313.7 L537.1 310.8 L539.3 309.6 L541.5 309.9 L543.6 306.0 L545.8 300.1 L548.0 300.0 L550.1 295.3 L552.3 296.3 L554.4 291.0 L556.6 289.1 L558.8 289.7 L560.9 288.6 L563.1 285.2 L565.3 281.1 L567.4 281.1 L569.6 276.8 L571.8 273.2 L573.9 272.7 L576.1 273.2 L578.2 271.0 L580.4 266.6 L582.6 268.6 L584.7 266.8 L586.9 262.8 L589.1 266.1 L591.2 261.2 L593.4 259.2 L595.6 261.2 L597.7 262.8 L599.9 260.7 L602.1 259.9 L604.2 259.1 L606.4 258.2 L608.5 258.7 L610.7 259.6 L612.9 260.8 L615.0 263.6 L617.2 259.0 L619.4 260.6 L621.5 265.1 L623.7 263.9 L625.9 260.9 L628.0 263.4 L630.2 264.9 L632.3 266.8 L634.5 262.3 L636.7 267.3 L638.8 266.8 L641.0 264.2 L643.2 265.9 L645.3 267.9 L647.5 264.8 L649.7 267.7 L651.8 267.1 L654.0 264.6 L656.2 266.0 L658.3 267.0 L660.5 265.7 L662.6 270.4 L664.8 266.7 L667.0 266.8 L669.1 269.1 L671.3 268.9 L673.5 267.9 L675.6 268.0 L677.8 268.9 L680.0 271.2 L682.1 266.8 L684.3 271.3 L686.4 271.5 L688.6 270.1 L690.8 270.8 L692.9 268.7 L695.1 272.0 L697.3 271.0 L699.4 271.0 L701.6 270.0 L703.8 269.0 L705.9 271.6 L708.1 272.1 L710.3 268.6 L712.4 270.5 L714.6 272.0 L716.7 270.8 L718.9 270.7 L721.1 271.4 L723.2 271.0 L725.4 271.9 L727.6 273.6 L729.7 274.5 L731.9 275.5 L734.1 274.1 L736.2 273.5 L738.4 277.4 L740.5 276.3 L742.7 276.7 L744.9 277.0 L747.0 275.5 L749.2 277.0 L751.4 275.7 L753.5 277.0 L755.7 277.5 L757.9 273.7 L760.0 277.0 L762.2 273.6 L764.4 272.8 L766.5 272.6 L768.7 274.4 L770.8 275.3 L773.0 275.2 L775.2 271.5 L777.3 272.3 L779.5 274.0 L781.7 273.4 L783.8 272.8 L786.0 270.3 L788.2 270.7 L790.3 270.5 L792.5 271.3 L794.6 272.1 L796.8 274.0 L799.0 273.8 L801.1 272.0 L803.3 272.1 L805.5 273.3 L807.6 275.0 L809.8 273.6 L812.0 275.0 L814.1 275.0 L816.3 276.0 L818.5 275.0 L820.6 275.0 L822.8 275.6 L824.9 277.3 L827.1 276.1 L829.3 276.3 L831.4 279.0 L833.6 279.2 L835.8 281.6 L837.9 282.0 L840.1 283.4 L842.3 286.3 L844.4 291.1 L846.6 294.1 L848.7 299.0 L850.9 305.2 L853.1 307.7 L855.2 310.4 L857.4 316.6 L859.6 319.1 L861.7 322.7 L863.9 327.5 L866.1 330.8 L868.2 333.0 L870.4 337.3 L872.6 340.9 L874.7 342.6 L876.9 345.9 L879.0 347.3 L881.2 351.3 L883.4 353.1 L885.5 356.5 L887.7 359.3 L889.9 360.9 L892.0 364.2 L894.2 367.1 L896.4 367.6 L898.5 371.3 L900.7 372.9 L902.8 376.2 L905.0 376.6 L907.2 379.5 L909.3 381.3 L911.5 383.7 L913.7 386.7 L915.8 387.6 L918.0 388.9 L920.2 391.9 L922.3 391.5 L924.5 393.1 L926.7 396.4 L928.8 397.6 L931.0 399.9 L933.1 400.8 L935.3 403.5 L937.5 403.6 L939.6 404.6 L941.8 407.4 L944.0 407.9 L946.1 408.0 L948.3 409.2 L950.5 410.5 L952.6 413.4 L954.8 414.4 L956.9 414.6 L959.1 417.3 L961.3 418.6 L963.4 419.5 L965.6 420.7 L967.8 421.6 L969.9 423.5 L972.1 424.0 L974.3 426.4 L976.4 426.9 L978.6 428.3 L980.8 430.1 L982.9 431.4 L985.1 431.7 L987.2 432.0 L989.4 434.1 L991.6 436.2 L993.7 435.8 L995.9 437.2 L998.1 438.6 L1000.2 439.8 L1002.4 442.3 L1004.6 443.0 L1006.7 443.3 L1008.9 445.6 L1011.0 447.3 L1013.2 447.1 L1015.4 448.8 L1017.5 449.7 L1019.7 452.5 L1021.9 453.1 L1024.0 453.6 L1026.2 455.4 L1028.4 456.6 L1030.5 458.7 L1032.7 459.7 L1034.9 461.4 L1037.0 462.9 L1039.2 464.0 L1041.3 466.4 L1043.5 467.9 L1045.7 467.4 L1047.8 467.3 L1050.0 466.2 L1052.2 465.7 L1054.3 468.3 L1056.5 469.3 L1058.7 470.3 L1060.8 472.0 L1063.0 471.6 L1065.1 473.7 L1067.3 473.8 L1069.5 475.5 L1071.6 477.3 L1073.8 477.3 L1076.0 478.7 L1078.1 480.5 L1080.3 480.4 L1082.5 480.9 L1084.6 483.5 L1086.8 483.9 L1089.0 484.2 L1091.1 485.1 L1093.3 485.4 L1095.4 486.5 L1097.6 489.4 L1099.8 489.4 L1101.9 490.8 L1104.1 490.6 L1106.3 492.8 L1108.4 493.5 L1110.6 494.8 L1112.8 494.8 L1114.9 496.6 L1117.1 496.7 L1119.2 496.6 L1121.4 499.2 L1123.6 498.7 L1125.7 500.9 L1127.9 501.0 L1130.1 501.5 L1132.2 502.9 L1134.4 503.8 L1136.6 504.3 L1138.7 505.5 L1140.9 506.5 L1143.1 509.0 L1145.2 508.5 L1147.4 508.5 L1149.5 510.1 L1151.7 511.3 L1153.9 512.0 L1156.0 513.4 L1158.2 512.8 L1160.4 514.9 L1162.5 513.5 L1164.7 514.5 L1166.9 516.0 L1169.0 517.0 L1171.2 517.3 L1173.3 518.8 L1175.5 519.0 L1177.7 518.5 L1179.8 520.1 L1182.0 521.6 L1184.2 521.7 L1186.3 522.4 L1188.5 524.3 L1190.7 524.8 L1192.8 526.9 L1195.0 527.7 L1197.2 527.2 L1199.3 527.5 L1201.5 528.5 L1203.6 529.9 L1205.8 530.6 L1208.0 531.4 L1210.1 531.4 L1212.3 532.6 L1214.5 533.6 L1216.6 535.1 L1218.8 534.5 L1221.0 536.4 L1223.1 536.7 L1225.3 538.3 L1227.4 538.9 L1229.6 538.7 L1231.8 540.6 L1233.9 540.6 L1236.1 542.5 L1238.3 541.2 L1240.4 541.8 L1242.6 542.3 L1244.8 541.9 L1246.9 542.1 L1249.1 542.5 L1251.3 541.8 L1253.4 543.5 L1255.6 544.0 L1257.7 546.7 L1259.9 549.0 L1262.1 548.9 L1264.2 552.4 L1266.4 552.6 L1268.6 554.4 L1270.7 554.7 L1272.9 557.6 L1275.1 557.3 L1277.2 558.6 L1279.4 560.0 L1281.5 558.6 L1283.7 558.9 L1285.9 560.7 L1288.0 559.7 L1290.2 560.3 L1292.4 561.0 L1294.5 560.9 L1296.7 562.3 L1298.9 562.5 L1301.0 565.3 L1303.2 565.2 L1305.4 565.1 L1307.5 567.5 L1309.7 567.2 L1311.8 569.5 L1314.0 568.5 L1316.2 569.5 L1318.3 570.7 L1320.5 572.3 L1322.7 573.2 L1324.8 573.9 L1327.0 572.9 L1329.2 573.9 L1331.3 575.7 L1333.5 576.2 L1335.6 577.2 L1337.8 576.0 L1340.0 576.7 L1342.1 578.3 L1344.3 580.0 L1346.5 580.4 L1348.6 580.6 L1350.8 581.9 L1353.0 582.1 L1355.1 583.8 L1357.3 583.5 L1359.5 585.5 L1361.6 585.0 L1363.8 586.9 L1365.9 587.2 L1368.1 588.2 L1370.3 588.9 L1372.4 589.3 L1374.6 590.3 L1376.8 592.4 L1378.9 593.2 L1381.1 594.0 L1383.3 594.4 L1385.4 595.5 L1387.6 596.8 L1389.7 598.1 L1391.9 597.6 L1394.1 599.2 L1396.2 600.3 L1398.4 601.2 L1400.6 601.8 L1402.7 601.7 L1404.9 603.9 L1407.1 604.3 L1409.2 605.6 L1411.4 606.5 L1413.6 606.1 L1415.7 606.4 L1417.9 608.6 L1420.0 608.9 L1422.2 608.1 L1424.4 608.8 L1426.5 610.2 L1428.7 611.3 L1430.9 610.8 L1433.0 612.7 L1435.2 612.7 L1437.4 614.1 L1439.5 614.0 L1441.7 614.7 L1443.8 615.3 L1446.0 617.2 L1448.2 617.8 L1450.3 617.4 L1452.5 618.2 L1454.7 620.5 L1456.8 619.9 L1459.0 622.1 L1461.2 623.0 L1463.3 623.3 L1465.5 622.5 L1467.7 623.2 L1469.8 625.5 L1472.0 625.8 L1474.1 627.2 L1476.3 629.6 L1478.5 632.3 L1480.6 634.5 L1482.8 636.5 L1485.0 640.6 L1487.1 641.8 L1489.3 644.9 L1491.5 648.1 L1493.6 649.9 L1495.8 651.7 L1497.9 652.3 L1500.1 653.8 L1502.3 656.2 L1504.4 657.9 L1506.6 659.1 L1508.8 660.4 L1510.9 660.6 L1513.1 661.8 L1515.3 662.7 L1517.4 662.4 L1519.6 659.9 L1521.8 660.3 L1523.9 657.0 L1526.1 655.7 L1528.2 655.3 L1530.4 653.7 L1532.6 652.6 L1534.7 649.1 L1536.9 645.5 L1539.1 643.0 L1541.2 640.0 L1543.4 638.8 L1545.6 635.4 L1547.7 632.0 L1549.9 631.6 L1552.0 630.3 L1554.2 628.0 L1556.4 628.8 L1558.5 624.9 L1560.7 627.8 L1562.9 627.0 L1565.0 627.6 L1567.2 629.5 L1569.4 628.5 L1571.5 629.1 L1573.7 629.6 L1575.9 632.9 L1578.0 634.8 L1580.2 636.4 L1582.3 636.3 L1584.5 640.6 L1586.7 641.0 L1588.8 641.3 L1591.0 643.1 L1593.2 644.2 L1595.3 645.7 L1597.5 648.5 L1599.7 650.5 L1601.8 651.3 L1604.0 653.4 L1606.1 654.5 L1608.3 654.1 L1610.5 656.1 L1612.6 657.3 L1614.8 656.7 L1617.0 659.1 L1619.1 659.0 L1621.3 660.9 L1623.5 662.2 L1625.6 663.7 L1627.8 663.1 L1630.0 662.3 L1632.1 663.3 L1634.3 667.2 L1636.4 667.9 L1638.6 670.0 L1640.8 668.1 L1642.9 672.1 L1645.1 674.0 L1647.3 672.7 L1649.4 672.0 L1651.6 675.9 L1653.8 674.0 L1655.9 678.5 L1658.1 679.5 L1660.2 678.1 L1662.4 681.4 L1664.6 679.6 L1666.7 682.6 L1668.9 680.7 L1671.1 683.6 L1673.2 681.3 L1675.4 683.2 L1677.6 683.9 L1679.7 686.9 L1681.9 687.0 L1684.1 683.6 L1686.2 685.8 L1688.4 688.3 L1690.5 689.4 L1692.7 687.0 L1694.9 685.8 L1697.0 689.7 L1699.2 687.1 L1701.4 690.0 L1703.5 689.1 L1705.7 688.4 L1707.9 688.7 L1710.0 691.6 L1712.2 690.1 L1714.3 694.2 L1716.5 695.5 L1718.7 696.0 L1720.8 695.3 L1723.0 696.7 L1725.2 698.8 L1727.3 696.2 L1729.5 698.5 L1731.7 696.6 L1733.8 700.3 L1736.0 702.9 L1738.2 699.4 L1740.3 702.2 L1742.5 699.4 L1744.6 705.3 L1746.8 700.0 L1749.0 701.8 L1751.1 703.4 L1753.3 706.2 L1755.5 705.6 L1757.6 703.5 L1759.8 708.0 L1762.0 705.0 L1764.1 707.3 L1766.3 712.0 L1768.4 709.7 L1770.6 706.8 L1772.8 709.0 L1774.9 709.8 L1777.1 709.7 L1779.3 714.3 L1781.4 711.5 L1783.6 715.0 L1785.8 715.0 L1787.9 718.0 L1790.1 715.0 L1792.3 713.2 L1794.4 718.8 L1796.6 719.0 L1798.7 715.0 L1800.9 719.7 L1803.1 717.2 L1805.2 726.4 L1807.4 722.4 L1809.6 725.8 L1811.7 724.5 L1813.9 724.8 L1816.1 728.6 L1818.2 718.3 L1820.4 723.1 L1822.5 728.0 L1824.7 723.8 L1826.9 733.3 L1829.0 725.0 L1831.2 732.6 L1833.4 730.6 L1835.5 731.2 L1837.7 738.1 L1839.9 741.0 L1842.0 742.5 L1844.2 731.6 L1846.4 736.4 L1848.5 729.6 L1850.7 743.4 L1852.8 741.1 L1855.0 739.4 L1857.2 741.2 L1859.3 739.0 L1861.5 736.4 L1863.7 743.2 L1865.8 749.9 L1868.0 736.6 L1870.2 741.7 L1872.3 743.8 L1874.5 756.6 L1876.6 750.7 L1878.8 761.7 L1881.0 750.3 L1883.1 745.4 L1885.3 749.1 L1887.5 743.4 L1889.6 756.9 L1891.8 757.3 L1894.0 757.0 L1896.1 765.1 L1898.3 764.8 L1900.5 759.3 L1902.6 771.8 L1904.8 759.4 L1906.9 776.1 L1909.1 771.1 L1911.3 784.1 L1913.4 788.7 L1915.6 780.8 L1917.8 770.1 L1919.9 786.5 L1922.1 768.0 L1924.3 770.2 L1926.4 774.3 L1928.6 787.1 L1930.7 772.3 L1932.9 785.8 L1935.1 782.8 L1937.2 789.4 L1939.4 779.1 L1941.6 816.2 L1943.7 810.5 L1945.9 801.2 L1948.1 813.8 L1950.2 820.0" fill="none" stroke="#00B050" stroke-width="13.2" stroke-linejoin="round" stroke-linecap="round"/>
</g>
<path d="M392.8 421 V509" stroke="#00B050" stroke-width="1.6"/>
<path d="M392.8 608 V633" stroke="#0000FF" stroke-width="1.6"/>
<path d="M1564.5 591.2 V1055.8" stroke="#000" stroke-width="5" fill="none"/>
<path d="M1243.4 115.4 H1403.6" stroke="#0000FF" stroke-width="13.2" stroke-linecap="round" fill="none"/>
<g transform="translate(1418.6 137.0) scale(1 1.025)"><text x="0.00 44.69 81.95 104.26 148.95 186.21 208.52 245.79 264.40 301.66 335.16 350.05 387.31" y="0" font-size="67" class="t">Ag-Se-6/nylon</text></g>
<path d="M1243.4 199.5 H1403.6" stroke="#C00000" stroke-width="13.2" stroke-linecap="round" fill="none"/>
<g transform="translate(1418.6 220.0) scale(1 1.025)"><text x="0.00 44.69 81.95 104.26 148.95 186.21 210.60 245.79 283.05 301.66 338.93 372.43 387.31 424.57" y="0" font-size="67" class="t">Ag-Se-12/nylon</text><rect x="214.10" y="-6.61" width="13.34" height="8.21" fill="#fff"/><rect x="233.37" y="-6.61" width="12.82" height="8.21" fill="#fff"/></g>
<path d="M1243.4 282.4 H1403.6" stroke="#000000" stroke-width="13.2" stroke-linecap="round" fill="none"/>
<g transform="translate(1418.6 303.0) scale(1 1.025)"><text x="0.00 44.69 81.95 104.26 148.95 186.21 208.52 245.79 283.05 301.66 338.93 372.43 387.31 424.57" y="0" font-size="67" class="t">Ag-Se-24/nylon</text></g>
<path d="M1243.4 365.5 H1403.6" stroke="#00B050" stroke-width="13.2" stroke-linecap="round" fill="none"/>
<g transform="translate(1418.6 386.6) scale(1 1.025)"><text x="0.00 44.69 81.95 104.26 148.95 186.21 208.52 245.79 283.05 301.66 338.93 372.43 387.31 424.57" y="0" font-size="67" class="t">Ag-Se-30/nylon</text></g>
<g transform="translate(328.4 78.0) scale(1 1.025)"><text x="-104.26 -62.55 -41.71" y="0" font-size="75.0" class="t">0.3</text></g>
<g transform="translate(328.4 258.8) scale(1 1.025)"><text x="-145.97 -104.26 -83.42 -41.71" y="0" font-size="75.0" class="t">0.25</text></g>
<g transform="translate(328.4 438.8) scale(1 1.025)"><text x="-104.26 -62.55 -41.71" y="0" font-size="75.0" class="t">0.2</text></g>
<g transform="translate(328.4 618.8) scale(1 1.025)"><text x="-145.97 -104.26 -81.10 -41.71" y="0" font-size="75.0" class="t">0.15</text><rect x="-76.98" y="-7.20" width="14.75" height="8.80" fill="#fff"/><rect x="-55.61" y="-7.20" width="14.16" height="8.80" fill="#fff"/></g>
<g transform="translate(328.4 797.9) scale(1 1.025)"><text x="-104.26 -62.55 -39.39" y="0" font-size="75.0" class="t">0.1</text><rect x="-35.27" y="-7.20" width="14.75" height="8.80" fill="#fff"/><rect x="-13.90" y="-7.20" width="14.16" height="8.80" fill="#fff"/></g>
<g transform="translate(328.4 977.9) scale(1 1.025)"><text x="-145.97 -104.26 -83.42 -41.71" y="0" font-size="75.0" class="t">0.05</text></g>
<g transform="translate(328.4 1158.0) scale(1 1.025)"><text x="-41.71" y="0" font-size="75.0" class="t">0</text></g>
<g transform="translate(393.0 1247.4) scale(1 1.025)"><text x="-62.57 -20.86 20.86" y="0" font-size="75.0" class="t">380</text></g>
<g transform="translate(587.8 1247.4) scale(1 1.025)"><text x="-62.57 -20.86 20.86" y="0" font-size="75.0" class="t">470</text></g>
<g transform="translate(782.5 1247.4) scale(1 1.025)"><text x="-62.57 -20.86 20.86" y="0" font-size="75.0" class="t">560</text></g>
<g transform="translate(977.2 1247.4) scale(1 1.025)"><text x="-62.57 -20.86 20.86" y="0" font-size="75.0" class="t">650</text></g>
<g transform="translate(1172.0 1247.4) scale(1 1.025)"><text x="-62.57 -20.86 20.86" y="0" font-size="75.0" class="t">740</text></g>
<g transform="translate(1366.8 1247.4) scale(1 1.025)"><text x="-62.57 -20.86 20.86" y="0" font-size="75.0" class="t">830</text></g>
<g transform="translate(1561.5 1247.4) scale(1 1.025)"><text x="-62.57 -20.86 20.86" y="0" font-size="75.0" class="t">920</text></g>
<g transform="translate(1756.2 1247.4) scale(1 1.025)"><text x="-81.10 -41.71 2.33 41.71" y="0" font-size="75.0" class="t">1010</text><rect x="-76.98" y="-7.20" width="14.75" height="8.80" fill="#fff"/><rect x="-55.61" y="-7.20" width="14.16" height="8.80" fill="#fff"/><rect x="6.44" y="-7.20" width="14.75" height="8.80" fill="#fff"/><rect x="27.81" y="-7.20" width="14.16" height="8.80" fill="#fff"/></g>
<g transform="translate(1951.0 1247.4) scale(1 1.025)"><text x="-81.10 -39.39 0.00 41.71" y="0" font-size="75.0" class="t">1100</text><rect x="-76.98" y="-7.20" width="14.75" height="8.80" fill="#fff"/><rect x="-55.61" y="-7.20" width="14.16" height="8.80" fill="#fff"/><rect x="-35.27" y="-7.20" width="14.75" height="8.80" fill="#fff"/><rect x="-13.90" y="-7.20" width="14.16" height="8.80" fill="#fff"/></g>
<g transform="translate(434.6 157.9) scale(1 1.025)"><text x="0.00 37.48 74.97 112.45 131.18 168.66" y="0" font-size="67.4" class="t">477 nm</text></g>
<g transform="translate(732.6 158.9) scale(1 1.025)"><text x="0.00 37.26 74.52 111.79 130.40 167.66" y="0" font-size="67.0" class="t">584 nm</text></g>
<g transform="translate(1482.2 569.2) scale(1 1.025)"><text x="0.00 37.48 74.97 112.45 131.18 168.66" y="0" font-size="67.4" class="t">922 nm</text></g>
<g transform="translate(1166.6 1371.8) scale(1 0.98)"><text font-weight="bold" stroke="#000" stroke-width="0.6" stroke-linejoin="round" class="t"><tspan x="-113.40 -71.35 -50.35 -25.18 21.00 88.22" y="0.0" font-size="75.6">λ (nm)</tspan></text></g>
<g transform="translate(84.4 576.2) rotate(-90) scale(1 1.025)"><text font-weight="bold" stroke="#000" stroke-width="0.6" stroke-linejoin="round" class="t"><tspan x="-158.81 -132.12 -91.59 -66.41 -11.82" y="0.0" font-size="75.6">(1-R)</tspan><tspan x="11.86" y="-23.0" font-size="50.0">2</tspan><tspan x="41.16 62.17 104.21" y="0.0" font-size="75.6">/2R</tspan></text><rect x="-129.76" y="-10.12" width="14.98" height="12.52" fill="#fff"/><rect x="-103.80" y="-10.12" width="14.02" height="12.52" fill="#fff"/></g>
</svg>
</body>
</html>
